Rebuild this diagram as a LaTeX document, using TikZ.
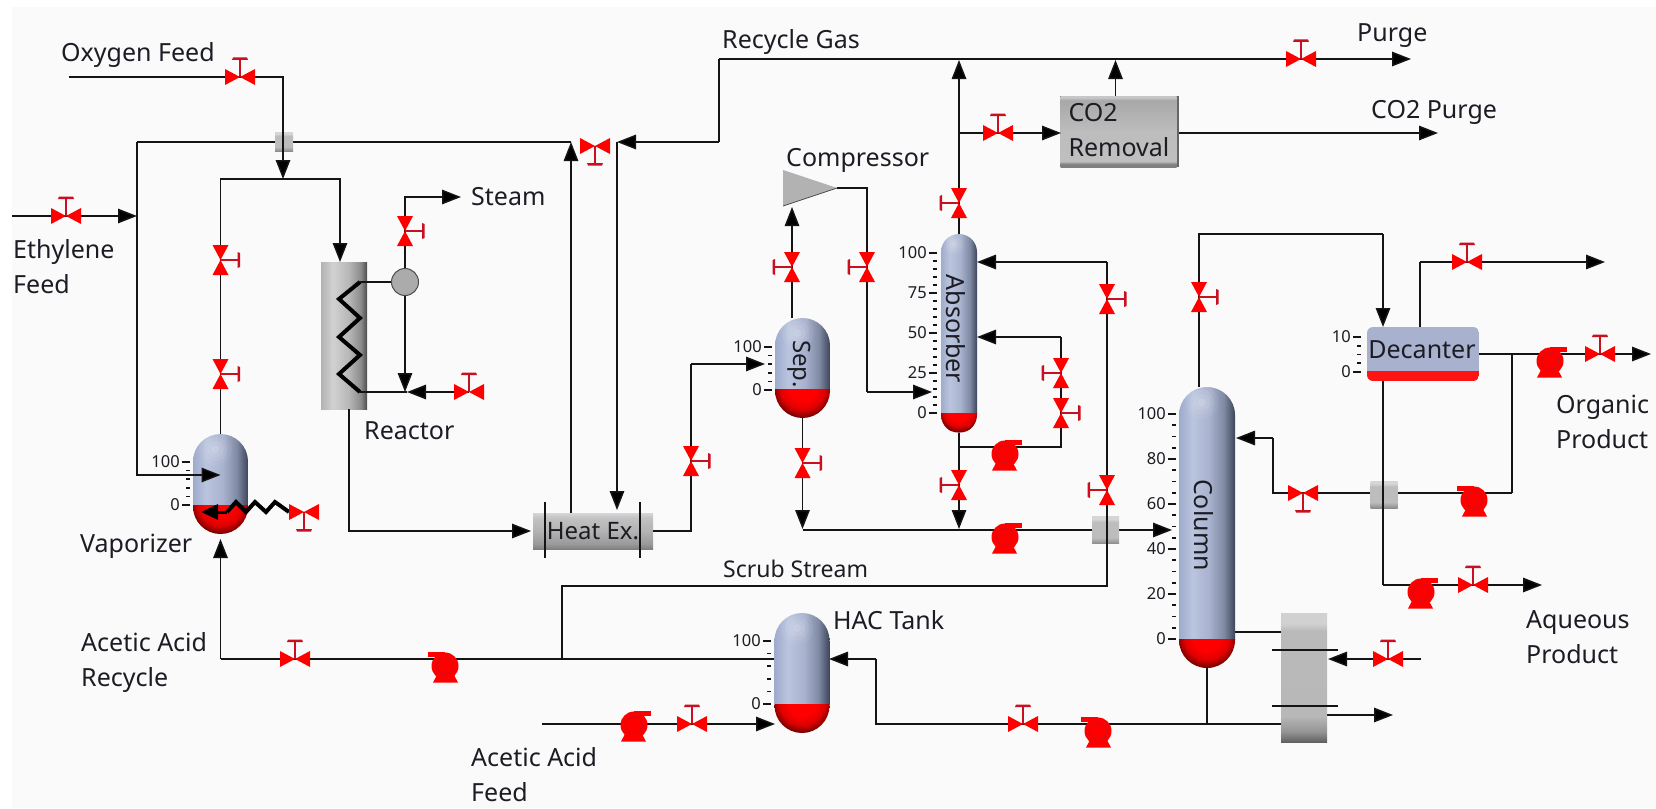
\documentclass[tikz,border=0pt]{standalone}
\usepackage{fontspec}
\setmainfont{Noto Sans}
\usetikzlibrary{arrows.meta}
\definecolor{bgc}{HTML}{FAFAFA}
\definecolor{linec}{HTML}{141414}
\definecolor{vred}{HTML}{FF0000}
\definecolor{stemred}{HTML}{C81020}
\definecolor{txt}{HTML}{1C1C24}
\definecolor{decblue}{HTML}{A8B2CE}
\definecolor{decred}{HTML}{FF1414}
\pgfdeclarehorizontalshading{vesselblue}{100bp}{rgb(0bp)=(.62,.67,.80);rgb(25bp)=(.62,.67,.80);rgb(37bp)=(.73,.77,.87);rgb(52bp)=(.66,.70,.81);rgb(65bp)=(.50,.54,.64);rgb(75bp)=(.24,.27,.35);rgb(100bp)=(.24,.27,.35)}
\pgfdeclareradialshading{redball}{\pgfpoint{0bp}{0bp}}{rgb(0bp)=(1,0,0);rgb(11bp)=(1,0,0);rgb(18bp)=(.88,0,0);rgb(23bp)=(.55,0,0);rgb(25bp)=(.42,0,0);rgb(50bp)=(.42,0,0)}
\pgfdeclarehorizontalshading{reactorgray}{100bp}{rgb(0bp)=(.70,.70,.70);rgb(25bp)=(.70,.70,.70);rgb(38bp)=(.82,.82,.82);rgb(55bp)=(.72,.72,.72);rgb(68bp)=(.55,.55,.55);rgb(75bp)=(.30,.30,.30);rgb(100bp)=(.30,.30,.30)}
\pgfdeclareverticalshading{boxgray}{100bp}{rgb(0bp)=(.50,.50,.50);rgb(25bp)=(.50,.50,.50);rgb(32bp)=(.60,.60,.60);rgb(50bp)=(.70,.70,.70);rgb(68bp)=(.76,.76,.76);rgb(75bp)=(.84,.84,.84);rgb(100bp)=(.84,.84,.84)}
\pgfdeclareverticalshading{mixgray}{100bp}{rgb(0bp)=(.55,.55,.55);rgb(25bp)=(.55,.55,.55);rgb(31bp)=(.66,.66,.66);rgb(36bp)=(.74,.74,.74);rgb(65bp)=(.74,.74,.74);rgb(70bp)=(.84,.84,.84);rgb(75bp)=(.84,.84,.84);rgb(100bp)=(.84,.84,.84)}
\pgfdeclareverticalshading{cotwogray}{100bp}{rgb(0bp)=(.50,.50,.50);rgb(25bp)=(.50,.50,.50);rgb(27bp)=(.50,.50,.50);rgb(29bp)=(.75,.75,.75);rgb(50bp)=(.74,.74,.74);rgb(72bp)=(.66,.66,.66);rgb(74bp)=(.78,.78,.78);rgb(75bp)=(.78,.78,.78);rgb(100bp)=(.78,.78,.78)}
\pgfdeclareverticalshading{rebgray}{100bp}{rgb(0bp)=(.38,.38,.38);rgb(25bp)=(.38,.38,.38);rgb(29bp)=(.58,.58,.58);rgb(35bp)=(.72,.72,.72);rgb(68bp)=(.73,.73,.73);rgb(71bp)=(.82,.82,.82);rgb(75bp)=(.82,.82,.82);rgb(100bp)=(.82,.82,.82)}
\tikzset{
  pipe/.style={draw=linec,line width=1.5pt},
  flow/.style={pipe,-{Triangle[length=19pt,width=14.5pt,fill=black]}},
  thickpipe/.style={draw=black,line width=4pt,line join=miter},
  lbl/.style={text=txt,font=\fontsize{25}{35}\selectfont,align=left,inner sep=0pt},
  vlbl/.style={text=txt,font=\fontsize{25}{35}\selectfont,inner sep=0pt,rotate=-90},
  scalelabel/.style={text=txt,font=\fontsize{16.5}{18}\selectfont,inner sep=0pt},
  scaletick/.style={draw=linec,line width=1.6pt},
  mixer/.style={shading=mixgray,draw=none,inner sep=0pt},
  graybox/.style={shading=boxgray,draw=none,inner sep=0pt,text=txt,font=\fontsize{24}{35}\selectfont},
}
\newcommand\valve[4]{%
  \coordinate (#1) at (#2,#3);
  \begin{scope}[shift={(#1)},rotate=#4]
    \fill[vred] (-15,-8) -- (15,8) -- (15,-8) -- (-15,8) -- cycle;
    \draw[stemred,line width=1.6pt] (0,0) -- (0,-18);
    \fill[stemred] (-8,-17) -- (8,-17) -- (7,-19.5) -- (-7,-19.5) -- cycle;
  \end{scope}}
\newcommand\pump[4]{%
  \coordinate (#1) at (#2,#3);
  \begin{scope}[shift={(#1)},xscale=#4]
    \fill[vred] (-13,23.5) -- (12,23.5) -- (8,16) -- (-9,16) -- cycle;
    \fill[vred] (0,-7) rectangle (17,-2);
    \fill[vred] (0,7) circle (13.5);
    \draw[stemred,line width=.7pt] (0,7) circle (8.5);
  \end{scope}}
\newcommand\vessel[6]{% name, cx, top, bot, r, level
  \node[inner sep=0pt,minimum width={2*#5 pt},minimum height={(#4-#3)*1pt}] (#1) at (#2,{(#3+#4)/2}) {};
  \begin{scope}
    \clip[rounded corners=#5pt] (#2-#5,#3) rectangle (#2+#5,#4);
    \shade[shading=vesselblue] (#2-#5,#3) rectangle (#2+#5,#6);
    \foreach \rr/\oo in {16/.05,12/.07,8/.09,4/.12}{\fill[white,opacity=\oo] (#2-5,#3+#5*.55) circle (\rr*#5/27);}
    \clip (#2-#5,#6) rectangle (#2+#5,#4);
    \shade[shading=redball] (#2,#6-2) circle ({(#4-#6)*1.08});
  \end{scope}}
\newcommand\levelscale[7]{% x, ytop, ybot, nMajor, subPerMajor, topValue, step
  \pgfmathtruncatemacro\nt{#4*#5}
  \foreach \i in {0,...,\nt}{
    \pgfmathsetmacro\yy{#2+(#3-#2)*\i/\nt}
    \pgfmathtruncatemacro\ismaj{mod(\i,#5)==0 ? 1 : 0}
    \ifnum\ismaj=1
      \draw[scaletick] (#1-8,\yy) -- (#1,\yy);
      \pgfmathtruncatemacro\val{#6-#7*\i/#5}
      \node[scalelabel,anchor=east] (t#1n\i) at (#1-10,\yy) {\val};
    \else
      \draw[scaletick] (#1-4,\yy) -- (#1,\yy);
    \fi}}
\begin{document}
\begin{tikzpicture}[x=1pt,y=-1pt]
\useasboundingbox (0,0) rectangle (1656,808);
\fill[white] (0,0) rectangle (1656,808);
\fill[bgc] (12,7) rectangle (1656,808);

% ---- named points
\coordinate (oxStart) at (69,77);
\coordinate (junA) at (283,179);
\coordinate (recL) at (137,142);
\coordinate (vapIn) at (220.5,475);
\coordinate (ethStart) at (12,216);
\coordinate (ethEnd) at (137,216);
\coordinate (reacIn) at (340,262);
\coordinate (coilTop) at (360,282);
\coordinate (coilBot) at (360,392);
\coordinate (steamEnd) at (461,197);
\coordinate (coolJ) at (405,392);
\coordinate (coolTip) at (407,392);
\coordinate (reacOut) at (349,409);
\coordinate (hxIn) at (531,531);
\coordinate (hxUp) at (571,513);
\coordinate (hxUpEnd) at (571,142);
\coordinate (hxDownStart) at (617,142);
\coordinate (hxDownEnd) at (617,510);
\coordinate (rgTurn) at (719,142);
\coordinate (rgTop) at (719,59);
\coordinate (purgeEnd) at (1411,59);
\coordinate (absTopEnd) at (959,60);
\coordinate (co2J) at (959,133);
\coordinate (co2Tip) at (1061,133);
\coordinate (co2Top) at (1115.5,96);
\coordinate (co2TopEnd) at (1115.5,60);
\coordinate (co2End) at (1438,133);
\coordinate (compIn) at (792,207);
\coordinate (compIn2) at (783,170);
\coordinate (compIn3) at (783,206);
\coordinate (compOut) at (837,188);
\coordinate (compTurn) at (867,188);
\coordinate (absFeedTurn) at (867,392);
\coordinate (absFeed) at (932,392);
\coordinate (sepUp) at (792,318);
\coordinate (hxTurnA) at (691,364);
\coordinate (sepIn) at (765,364);
\coordinate (sepDown) at (802.5,529);
\coordinate (mainStart) at (802.5,530);
\coordinate (mainEnd) at (1172,530);
\coordinate (absDown) at (959,529);
\coordinate (loopJ) at (959,447);
\coordinate (loopT) at (1061,447);
\coordinate (loopU) at (1061,337);
\coordinate (loopEnd) at (977,337);
\coordinate (scrubJ) at (562,659);
\coordinate (scrubA) at (562,586);
\coordinate (scrubB) at (1107,586);
\coordinate (scrubC) at (1107,262);
\coordinate (scrubEnd) at (977,262);
\coordinate (tankOut) at (775,659);
\coordinate (recTurn) at (220.5,659);
\coordinate (vapBot) at (220.5,539);
\coordinate (rebOut) at (1282,724);
\coordinate (hacTurnA) at (876,724);
\coordinate (hacTurnB) at (876,659);
\coordinate (hacIn) at (829,659);
\coordinate (colBotJ) at (1207,724);
\coordinate (colSide) at (1235,632);
\coordinate (rebIn) at (1281,632);
\coordinate (rebA1) at (1272,650);
\coordinate (rebA2) at (1338,650);
\coordinate (rebB1) at (1272,706);
\coordinate (rebB2) at (1338,706);
\coordinate (cwStart) at (1421,659);
\coordinate (cwTip) at (1328,659);
\coordinate (cwOut) at (1327,715);
\coordinate (cwOutEnd) at (1393,715);
\coordinate (aafStart) at (542,724);
\coordinate (aafEnd) at (775,724);
\coordinate (colTop) at (1199,387);
\coordinate (colTopA) at (1199,234);
\coordinate (colTopB) at (1383,234);
\coordinate (decIn) at (1383,327);
\coordinate (decTop) at (1420,327);
\coordinate (decTopA) at (1420,262);
\coordinate (decTopEnd) at (1605,262);
\coordinate (orgEnd) at (1651,354);
\coordinate (brA) at (1512,354);
\coordinate (brB) at (1512,493);
\coordinate (refA) at (1273,493);
\coordinate (refB) at (1273,438);
\coordinate (refEnd) at (1236,438);
\coordinate (decBot) at (1383,381);
\coordinate (decBotA) at (1383,585);
\coordinate (aqEnd) at (1542,585);

% ---- pipes that pass behind the mixers
\draw[pipe] (hxUpEnd) -- (recL);
\draw[flow] (mainStart) -- (mainEnd);
\draw[pipe] (brB) -- (refA) -- (refB);
\draw[flow] (refB) -- (refEnd);

% ---- mixers
\node[mixer,minimum width=18pt,minimum height=19pt] (mixA) at (284,141.5) {};
\node[mixer,minimum width=27pt,minimum height=27pt] (mixB) at (1105.5,530) {};
\node[mixer,minimum width=27pt,minimum height=27pt] (mixC) at (1384,494.5) {};

% ---- reactor, heat exchanger, CO2 box first: pipes end on them
\node[inner sep=0pt,minimum width=46pt,minimum height=147pt,shading=reactorgray] (reactor) at (344,335.5) {};
\node[graybox,minimum width=120pt,minimum height=36pt] (hx) at (593,531) {Heat Ex.};
\fill[black!60] (1060,96) rectangle (1179,167);
\node[shading=cotwogray,inner sep=0pt,minimum width=116pt,minimum height=71pt,text width=100pt,align=left,text=txt,font=\fontsize{25}{35}\selectfont] (co2) at (1118.5,131.5) {\strut CO2\\\strut Removal};

% ---- remaining pipes
\draw[flow] (oxStart) -| (junA);
\draw[flow] (recL) |- (vapIn);
\draw[flow] (ethStart) -- (ethEnd);
\draw[pipe] (vapIn |- 0,434) |- (junA);
\draw[flow] (junA) -| (reacIn);
\draw[flow] (reacOut) |- (hxIn);
\draw[flow] (hxUp) -- (hxUpEnd);
\draw[flow] (hxDownStart) -- (hxDownEnd);
\draw[pipe] (rgTurn) -- (rgTop);
\draw[flow] (rgTurn) -- (hxDownStart);
\draw[flow] (rgTop) -- (purgeEnd);
\draw[pipe] (959,234) -- (co2J);
\draw[flow] (co2J) -- (absTopEnd);
\draw[flow] (co2J) -- (co2Tip);
\draw[flow] (co2Top) -- (co2TopEnd);
\draw[flow] (1179,133) -- (co2End);
\draw[flow] (sepUp) -- (compIn);
\draw[pipe] (compOut) -- (compTurn) -- (absFeedTurn);
\draw[flow] (absFeedTurn) -- (absFeed);
\draw[pipe] (653,531) -| (hxTurnA);
\draw[flow] (hxTurnA) -- (sepIn);
\draw[flow] (sepDown |- 0,418) -- (sepDown);
\draw[flow] (absDown |- 0,433) -- (absDown);
\draw[pipe] (loopJ) -- (loopT) -- (loopU);
\draw[flow] (loopU) -- (loopEnd);
\draw[pipe] (scrubJ) -- (scrubA) -- (scrubB) -- (scrubC);
\draw[flow] (scrubC) -- (scrubEnd);
\draw[pipe] (tankOut) -- (recTurn);
\draw[flow] (recTurn) -- (vapBot);
\draw[pipe] (rebOut) -- (hacTurnA) -- (hacTurnB);
\draw[flow] (hacTurnB) -- (hacIn);
\draw[pipe] (colSide) -- (rebIn);
\draw[pipe] (colBotJ |- 0,668) -- (colBotJ);
\draw[pipe] (colTop) -- (colTopA) -- (colTopB);
\draw[flow] (colTopB) -- (decIn);
\draw[pipe] (decTop) -- (decTopA);
\draw[flow] (decTopA) -- (decTopEnd);
\draw[flow] (1479,354) -- (orgEnd);
\draw[pipe] (brA) -- (brB);
\draw[pipe] (decBot) -- (decBotA);
\draw[flow] (decBotA) -- (aqEnd);
\draw[flow] (aafStart) -- (aafEnd);
\draw[flow] (cwStart) -- (cwTip);
\draw[flow] (cwOut) -- (cwOutEnd);

% ---- steam drum and coil
\node[circle,fill=black!33,draw=black!70,line width=1pt,inner sep=0pt,minimum size=27pt] (drum) at (405,282) {};
\draw[thickpipe] (coilTop) -- (339,299) -- (360,318) -- (339,337) -- (360,355) -- (339,374) -- (coilBot);
\draw[pipe] (coilTop) -- (drum.west);
\draw[flow] (drum.north) |- (steamEnd);
\draw[flow] (drum.south) -- (coolJ);
\draw[flow] (469,392) -- (coolTip);
\draw[pipe] (coolTip) -- (coilBot);

% ---- heat exchanger end lines
\draw[pipe] (545,502) -- (545,558);
\draw[pipe] (640,502) -- (640,558);

% ---- compressor
\fill[black!30] (compIn2) -- (compOut) -- (compIn3) -- cycle;
\draw[black!70,line width=.8pt] (compOut) -- (compIn3);

% ---- vessels
\vessel{vap}{220.5}{434}{534}{27.5}{505}
\vessel{sep}{802.5}{318}{418}{27.5}{389}
\vessel{abs}{959}{234}{433}{18}{413}
\vessel{hac}{802}{613}{733}{27.5}{704}
\vessel{col}{1207}{387}{668}{28}{639}
\levelscale{190}{462}{505}{1}{5}{100}{100}
\levelscale{772}{347}{390}{1}{5}{100}{100}
\levelscale{937}{253}{413}{4}{5}{100}{25}
\levelscale{771}{641}{704}{1}{5}{100}{100}
\levelscale{1176}{414}{639}{5}{4}{100}{20}
\levelscale{1361}{337}{372}{1}{4}{10}{10}

% ---- decanter
\begin{scope}
  \clip[rounded corners=6pt] (1367,327) rectangle (1479,381);
  \fill[decblue] (1367,327) rectangle (1479,371);
  \fill[decred] (1367,371) rectangle (1479,381);
\end{scope}
\node[inner sep=0pt,text=txt,font=\fontsize{25}{35}\selectfont] (dec) at (1422,351) {\strut Decanter};

% ---- reboiler
\node[inner sep=0pt,minimum width=46pt,minimum height=129pt,shading=rebgray] (reb) at (1304,677.5) {};
\draw[pipe] (rebA1) -- (rebA2);
\draw[pipe] (rebB1) -- (rebB2);

% ---- heater on the vaporizer and arrows over it
\draw[thickpipe] (289,512) -- (275,502) -- (266,512) -- (255,502) -- (246,512) -- (236,502) -- (227,512);
\draw[draw=black,line width=3pt,-{Triangle[length=17pt,width=15pt]}] (227,512) -- (201,512);
\draw[flow] (recL |- vapIn) -- (vapIn);

% ---- valves
\valve{vOx}{240}{77}{0}
\valve{vEth}{66}{216}{0}
\valve{vVapA}{220.5}{260}{-90}
\valve{vVapB}{220.5}{374}{-90}
\valve{vSteam}{405}{231}{-90}
\valve{vCool}{469}{392}{0}
\valve{vHeat}{304}{512}{180}
\valve{vRec}{295}{659}{0}
\valve{vRecyc}{595}{146}{180}
\valve{vPurge}{1301}{59}{0}
\valve{vCOt}{998}{133}{0}
\valve{vAbsTop}{959}{203}{90}
\valve{vCompIn}{792}{267}{90}
\valve{vCompOut}{867}{267}{90}
\valve{vSepOut}{802.5}{463}{-90}
\valve{vHX}{691}{461}{-90}
\valve{vAbsBot}{959}{485}{90}
\valve{vAbsA}{1061}{373}{90}
\valve{vAbsB}{1061}{413}{-90}
\valve{vScrubA}{1107}{299}{-90}
\valve{vScrubB}{1107}{490}{90}
\valve{vColTop}{1199}{297}{-90}
\valve{vDecTop}{1467}{262}{0}
\valve{vOrg}{1600}{354}{0}
\valve{vReflux}{1303}{493}{180}
\valve{vAq}{1473}{585}{0}
\valve{vCw}{1388}{659}{0}
\valve{vHacIn}{1023}{724}{0}
\valve{vAaf}{692}{724}{0}

% ---- pumps
\pump{pRec}{445}{659}{-1}
\pump{pAaf}{634}{718}{1}
\pump{pHac}{1098}{724}{-1}
\pump{pAbsA}{1005}{447}{1}
\pump{pAbsB}{1005}{530}{1}
\pump{pOrg}{1550}{354}{1}
\pump{pRefl}{1474}{493}{-1}
\pump{pAq}{1421}{585}{1}

% ---- labels
\node[lbl,anchor=west] (tOx) at (61,54) {\strut Oxygen Feed};
\node[lbl,anchor=west] (tEth) at (13,269) {\strut Ethylene\\\strut Feed};
\node[lbl,anchor=west] (tSteam) at (471,198) {\strut Steam};
\node[lbl,anchor=west] (tReac) at (364,432) {\strut Reactor};
\node[lbl,anchor=west] (tVap) at (80,545) {\strut Vaporizer};
\node[lbl,anchor=west] (tRg) at (722,42) {\strut Recycle Gas};
\node[lbl,anchor=west] (tPurge) at (1357,35) {\strut Purge};
\node[lbl,anchor=west] (tCOp) at (1371,111) {\strut CO2 Purge};
\node[lbl,anchor=west] (tComp) at (786,159) {\strut Compressor};
\node[lbl,anchor=west,font=\fontsize{23}{35}\selectfont] (tScrub) at (723,570) {\strut Scrub Stream};
\node[lbl,anchor=west] (tHac) at (833,622) {\strut HAC Tank};
\node[lbl,anchor=west] (tAar) at (81,662) {\strut Acetic Acid\\\strut Recycle};
\node[lbl,anchor=west] (tAaf) at (471,777) {\strut Acetic Acid\\\strut Feed};
\node[lbl,anchor=west] (tOrg) at (1556,424) {\strut Organic\\\strut Product};
\node[lbl,anchor=west] (tAq) at (1526,639) {\strut Aqueous\\\strut Product};
\node[vlbl,font=\fontsize{24}{35}\selectfont] (tSep) at (800,364) {\strut Sep.};
\node[vlbl] (tAbs) at (953,329) {\strut Absorber};
\node[vlbl] (tCol) at (1201,525) {\strut Column};
\end{tikzpicture}
\end{document}
